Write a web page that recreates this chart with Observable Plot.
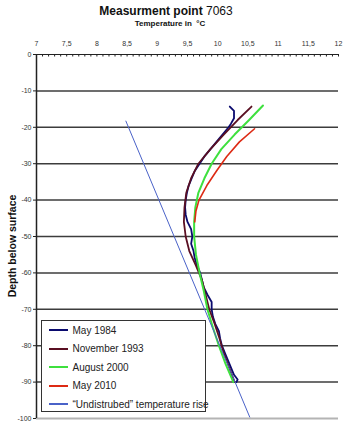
<!DOCTYPE html>
<html>
<head>
<meta charset="utf-8">
<script src="https://cdn.jsdelivr.net/npm/d3@7"></script>
<script src="https://cdn.jsdelivr.net/npm/@observablehq/plot@0.6"></script>
<style>
  body { margin: 0; background: #fff; font-family: Arial, "Liberation Sans", sans-serif; }
  #wrap { position: relative; width: 345px; height: 425px; overflow: hidden; }
  #title { position: absolute; left: 0; top: 5px; width: 332px; text-align: center;
           font-size: 12px; line-height: 12px; font-weight: bold; color: #111; }
  #title span { font-weight: normal; }
  #subtitle { position: absolute; left: 0; top: 20px; width: 340px; text-align: center;
              font-size: 8px; line-height: 8px; font-weight: bold; color: #111; }
  #chart { position: absolute; left: 0; top: 30px; }
  #ylabel { position: absolute; left: 12px; top: 246px; transform: translate(-50%, -50%) rotate(-90deg);
            white-space: nowrap; font-size: 10.5px; font-weight: bold; color: #111; }
  #legend { position: absolute; left: 41px; top: 320px; width: 163px; height: 90px;
            background: #fff; border: 1.5px solid #333; }
  .row { position: absolute; left: 0; height: 18px; display: flex; align-items: center;
         font-size: 10px; color: #222; white-space: nowrap; }
  .swatch { display: inline-block; width: 18.5px; height: 2px; margin-left: 7px; margin-right: 5px; }
</style>
</head>
<body>
<div id="wrap">
  <div id="title">Measurment point <span>7063</span></div>
  <div id="subtitle">Temperature in &nbsp;°C</div>
  <div id="chart"></div>
  <div id="ylabel">Depth below surface</div>
  <div id="legend"></div>
</div>
<script>
// Temperature profiles (°C) against depth below surface (m)
const depth1984 = [-14.3, -15.5, -17.5, -19, -20, -22, -24, -26, -28, -30, -32, -34, -36, -38, -40, -42, -44, -46, -48, -50, -52, -54, -56, -58, -60, -62, -64, -66, -68, -70, -72, -74, -76, -78, -80, -82, -84, -86, -88, -89.3, -90];
const temp1984  = [10.2, 10.27, 10.27, 10.22, 10.18, 10.08, 9.98, 9.88, 9.78, 9.7, 9.62, 9.57, 9.52, 9.49, 9.47, 9.46, 9.47, 9.5, 9.56, 9.58, 9.56, 9.6, 9.62, 9.66, 9.71, 9.74, 9.77, 9.83, 9.9, 9.9, 9.92, 9.96, 10.02, 10.04, 10.07, 10.12, 10.17, 10.22, 10.27, 10.33, 10.31];

const depth1993 = [-14.3, -18, -22, -26, -30, -34, -38, -42, -46, -50, -54, -58, -62, -66, -70, -74, -78, -82, -86, -90];
const temp1993  = [10.56, 10.33, 10.1, 9.88, 9.68, 9.56, 9.48, 9.45, 9.44, 9.47, 9.53, 9.64, 9.74, 9.8, 9.86, 9.95, 10.03, 10.1, 10.19, 10.28];

const depth2000 = [-14, -18, -22, -26, -30, -34, -38, -42, -46, -50, -55, -60, -65, -70, -75, -80, -85, -90];
const temp2000  = [10.75, 10.52, 10.28, 10.06, 9.9, 9.78, 9.68, 9.63, 9.61, 9.61, 9.64, 9.7, 9.77, 9.83, 9.92, 10.02, 10.13, 10.26];

const depth2010 = [-20.4, -24, -28, -32, -36, -40, -43, -46];
const temp2010  = [10.61, 10.36, 10.15, 9.98, 9.82, 9.69, 9.64, 9.62];

const depthTrend = [-18.3, -99.6];
const tempTrend  = [8.48, 10.53];

const seriesNames  = ["May 1984", "November 1993", "August 2000", "May 2010", "\u201CUndistrubed\u201D temperature rise"];
const seriesColors = ["#0a0a6e", "#5a0f22", "#3ee03e", "#dd2a14", "#4a62c8"];
const seriesWidths = [1.8, 1.8, 2, 1.6, 1];

const xTicks = [7, 7.5, 8, 8.5, 9, 9.5, 10, 10.5, 11, 11.5, 12];
const xTickLabels = ["7", "7,5", "8", "8,5", "9", "9,5", "10", "10,5", "11", "11,5", "12"];
const xMinorTicks = d3.range(70, 121).map(d => d / 10);
const yTicks = [0, -10, -20, -30, -40, -50, -60, -70, -80, -90, -100];
const yGrid = [-10, -20, -30, -40, -50, -60, -70, -80, -90];

const depths = [depth1984, depth1993, depth2000, depth2010, depthTrend];
const temps = [temp1984, temp1993, temp2000, temp2010, tempTrend];
const rows = depths.flatMap((ds, i) => ds.map((d, j) => ({series: seriesNames[i], depth: d, temp: temps[i][j]})));

const W = 345, H = 395, mTop = 24, mBottom = 7, mLeft = 36, mRight = 7;

const chart = Plot.plot({
  width: W,
  height: H,
  marginTop: mTop,
  marginBottom: mBottom,
  marginLeft: mLeft,
  marginRight: mRight,
  style: {fontFamily: "Arial, 'Liberation Sans', sans-serif", color: "#333", background: "#fff"},
  x: {domain: [7, 12]},
  y: {domain: [-100, 0]},
  color: {domain: seriesNames, range: seriesColors},
  marks: [
    Plot.ruleY(yGrid, {stroke: "#3c3c3c", strokeWidth: 1.5}),
    Plot.ruleY([-100], {stroke: "#b4b4b4", strokeWidth: 2.2}),
    Plot.ruleY([0], {stroke: "#222", strokeWidth: 1}),
    Plot.tickX(xMinorTicks, {x: d => d, stroke: "#222", strokeWidth: 1, insetBottom: H - mTop - mBottom - 2.5}),
    Plot.ruleX([7], {stroke: "#222", strokeWidth: 1.5}),
    Plot.axisX(xTicks, {anchor: "top", tickSize: 0, tickPadding: 9, fontSize: 7, tickFormat: d => xTickLabels[xTicks.indexOf(d)], label: null}),
    Plot.axisY(yTicks, {anchor: "left", tickSize: 3, tickPadding: 2, fontSize: 7, tickFormat: d => String(d), label: null, stroke: "#222"}),
    ...seriesNames.map((name, i) => Plot.line(rows.filter(r => r.series === name), {
      x: "temp", y: "depth", stroke: seriesColors[i], strokeWidth: seriesWidths[i], curve: "linear"
    }))
  ]
});
document.getElementById("chart").appendChild(chart);

// Legend box drawn over the lower-left of the plot
const legend = document.getElementById("legend");
const rowCenters = [9, 27.5, 46, 64.5, 83];
seriesNames.forEach((name, i) => {
  const row = document.createElement("div");
  row.className = "row";
  row.style.top = (rowCenters[i] - 9) + "px";
  const sw = document.createElement("span");
  sw.className = "swatch";
  sw.style.background = seriesColors[i];
  sw.style.height = (i === 4 ? 1.5 : 2) + "px";
  row.appendChild(sw);
  row.appendChild(document.createTextNode(name));
  legend.appendChild(row);
});
</script>
</body>
</html>
